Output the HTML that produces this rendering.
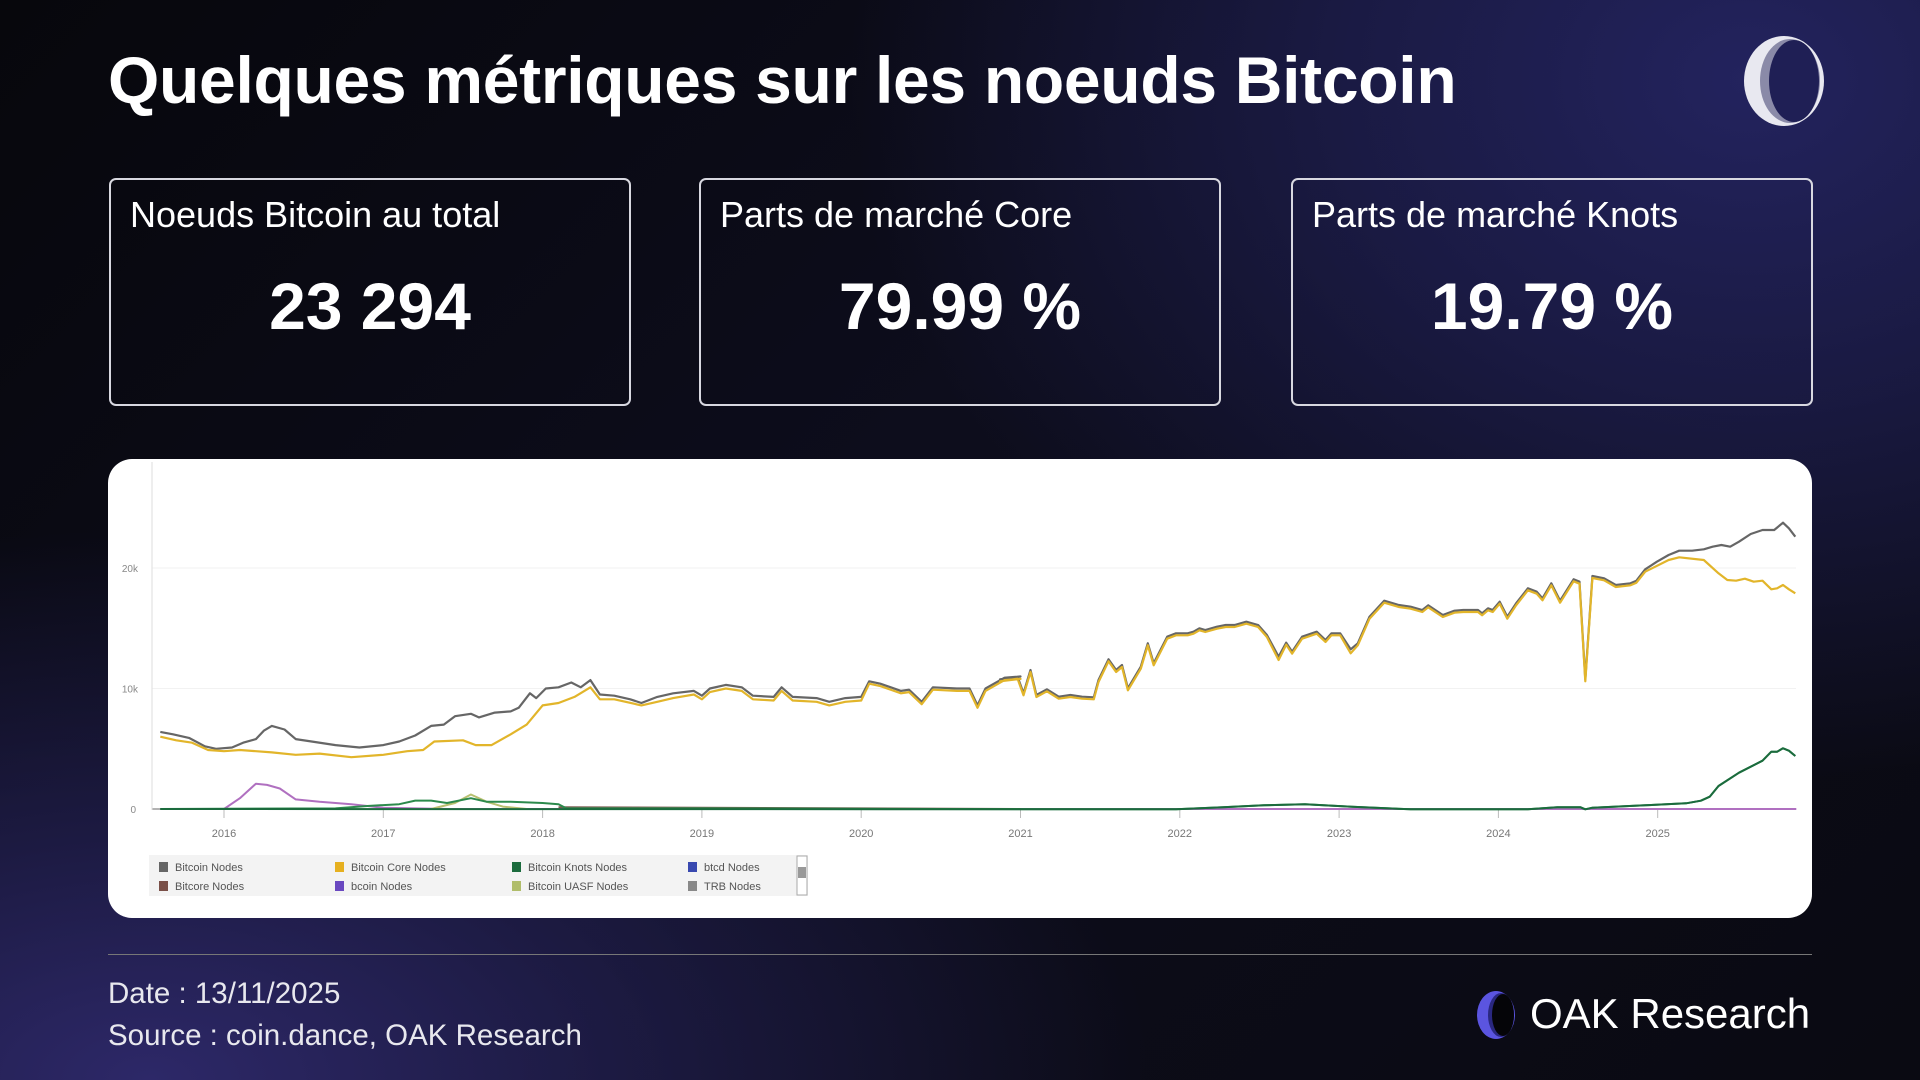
<!DOCTYPE html>
<html><head><meta charset="utf-8">
<style>
html,body{margin:0;padding:0}
body{width:1920px;height:1080px;overflow:hidden;position:relative;font-family:"Liberation Sans",sans-serif;color:#fff;
background:
radial-gradient(ellipse 900px 700px at 1750px 80px,#23235e 0%,rgba(35,35,94,0.6) 45%,rgba(20,20,50,0) 100%),
radial-gradient(ellipse 1000px 550px at 150px 1080px,#2d2868 0%,rgba(42,38,100,0.55) 45%,rgba(0,0,0,0) 100%),
linear-gradient(135deg,#07070c 0%,#0d0d1c 45%,#0a0a12 100%);}
.title{position:absolute;left:108px;top:42px;font-size:66px;font-weight:bold;letter-spacing:-0.3px;white-space:nowrap}
.box{position:absolute;top:178px;width:522px;height:228px;border:2px solid #d8d8e0;border-radius:7px;box-sizing:border-box}
.box .l{position:absolute;left:19px;top:14px;font-size:36px;white-space:nowrap}
.box .v{position:absolute;left:0;right:0;top:88px;text-align:center;font-size:66px;font-weight:bold}
.card{position:absolute;left:108px;top:459px;width:1704px;height:459px;background:#fff;border-radius:24px;overflow:hidden}
.foot{position:absolute;left:108px;font-size:29.5px;color:#e8e8ee;white-space:nowrap}
</style></head><body>
<div class="title">Quelques métriques sur les noeuds Bitcoin</div>
<svg style="position:absolute;left:1740px;top:34px" width="88" height="94" viewBox="0 0 88 94">
<ellipse cx="44" cy="47" rx="40" ry="45" fill="#e8e8f0"/>
<ellipse cx="50" cy="47" rx="30" ry="42" fill="#8a8aa8"/>
<ellipse cx="54" cy="47" rx="25" ry="41" fill="#1f1f55"/>
</svg>
<div class="box" style="left:109px"><div class="l">Noeuds Bitcoin au total</div><div class="v">23 294</div></div>
<div class="box" style="left:699px"><div class="l">Parts de marché Core</div><div class="v">79.99 %</div></div>
<div class="box" style="left:1291px"><div class="l">Parts de marché Knots</div><div class="v">19.79 %</div></div>
<div class="card"></div>
<svg id="ch" style="position:absolute;left:0;top:0" width="1920" height="1080"></svg>
<div style="position:absolute;left:108px;top:954px;width:1704px;height:1px;background:#777"></div>
<div class="foot" style="top:977px">Date : 13/11/2025</div>
<div class="foot" style="top:1019px">Source : coin.dance, OAK Research</div>
<svg style="position:absolute;left:1476px;top:990px" width="44" height="50" viewBox="0 0 44 50">
<ellipse cx="20" cy="25" rx="19" ry="24" fill="#5b55e0"/>
<ellipse cx="25" cy="25" rx="13" ry="22" fill="#2a2880"/>
<ellipse cx="27" cy="25" rx="11" ry="21" fill="#050508"/>
</svg>
<div style="position:absolute;left:1530px;top:990px;font-size:42px;white-space:nowrap;color:#fff">OAK Research</div>
<script>
var s=document.getElementById('ch'),h='';
function X(t){return 224+(t-2016)*159.3}
function Y(v){return 809-v*12.05}
var SX=1.705;
function tv(a){return a.map(p=>X(p[0]).toFixed(1)+','+Y(p[1]).toFixed(1))}
function zm(a){return a.map(p=>(1000+p[0]/SX).toFixed(1)+','+(450+p[1]/3).toFixed(1))}
[0,10,20].forEach(v=>{h+='<line x1="152" x2="1796" y1="'+Y(v)+'" y2="'+Y(v)+'" stroke="'+(v?'#f2f2f2':'#999')+'" stroke-width="'+(v?1:1.5)+'"/>';
h+='<text x="'+(v?138:136)+'" y="'+(Y(v)+4)+'" font-size="10" fill="#888" text-anchor="end" font-family="Liberation Sans">'+(v?v+'k':'0')+'</text>';});
h+='<line x1="152" x2="152" y1="462" y2="810" stroke="#ddd"/>';
for(var y=2016;y<=2025;y++){var x=X(y);h+='<line x1="'+x+'" x2="'+x+'" y1="810" y2="818" stroke="#bbb"/><text x="'+x+'" y="837" font-size="11" fill="#777" text-anchor="middle" font-family="Liberation Sans">'+y+'</text>';}
var gE=[[2015.6,6.4],[2015.68,6.2],[2015.78,5.9],[2015.88,5.2],[2015.95,5.0],[2016.05,5.1],[2016.12,5.5],[2016.2,5.8],[2016.25,6.5],[2016.3,6.9],[2016.38,6.6],[2016.45,5.8],[2016.55,5.6],[2016.7,5.3],[2016.85,5.1],[2017.0,5.3],[2017.1,5.6],[2017.2,6.1],[2017.3,6.9],[2017.38,7.0],[2017.45,7.7],[2017.55,7.9],[2017.6,7.6],[2017.7,8.0],[2017.8,8.1],[2017.85,8.4],[2017.92,9.6],[2017.96,9.2],[2018.02,10.0],[2018.1,10.1],[2018.18,10.5],[2018.24,10.1],[2018.3,10.7],[2018.36,9.5],[2018.45,9.4],[2018.55,9.1],[2018.62,8.8],[2018.72,9.3],[2018.82,9.6],[2018.95,9.8],[2019.0,9.4],[2019.05,10.0],[2019.15,10.3],[2019.25,10.1],[2019.32,9.4],[2019.45,9.3],[2019.5,10.1],[2019.57,9.3],[2019.72,9.2],[2019.8,8.9],[2019.9,9.2],[2020.0,9.3],[2020.05,10.6],[2020.12,10.4],[2020.25,9.8],[2020.3,9.9],[2020.38,8.9],[2020.45,10.1],[2020.6,10.0],[2020.68,10.0],[2020.73,8.6],[2020.78,10.0],[2020.9,10.9],[2021.0,11.0]];
var gL=[[0,688],[30,680],[40,730],[52,660],[62,735],[80,718],[100,740],[120,735],[140,740],[160,742],[168,690],[185,628],[198,660],[208,645],[218,715],[240,650],[252,580],[262,640],[285,560],[300,550],[320,550],[330,545],[340,535],[350,540],[370,530],[385,525],[400,525],[420,515],[440,525],[455,555],[475,620],[488,578],[498,605],[515,560],[540,545],[555,570],[565,550],[580,550],[598,598],[610,580],[630,500],[655,452],[680,465],[700,470],[720,480],[730,466],[755,495],[775,482],[790,480],[815,480],[822,490],[832,475],[840,480],[852,455],[865,500],[880,460],[900,415],[915,425],[925,445],[940,400],[955,452],[978,388],[988,395],[998,688],[1010,378],[1030,385],[1050,405],[1075,400],[1085,392],[1100,358],[1120,335],[1140,315],[1158,302],[1180,302],[1200,298],[1215,290],[1230,285],[1245,290],[1260,275],[1280,252],[1300,240],[1320,240],[1335,218],[1345,235],[1356,260]];
var yE=[[2015.6,6.0],[2015.7,5.7],[2015.8,5.5],[2015.9,4.9],[2016.0,4.8],[2016.1,4.9],[2016.2,4.8],[2016.3,4.7],[2016.45,4.5],[2016.6,4.6],[2016.8,4.3],[2017.0,4.5],[2017.15,4.8],[2017.25,4.9],[2017.32,5.6],[2017.5,5.7],[2017.58,5.3],[2017.68,5.3],[2017.8,6.2],[2017.9,7.0],[2018.0,8.6],[2018.1,8.8],[2018.2,9.3],[2018.3,10.1],[2018.36,9.1],[2018.45,9.1],[2018.62,8.6],[2018.72,8.9],[2018.82,9.2],[2018.95,9.5],[2019.0,9.1],[2019.05,9.7],[2019.15,10.0],[2019.25,9.8],[2019.32,9.1],[2019.45,9.0],[2019.5,9.8],[2019.57,9.0],[2019.72,8.9],[2019.8,8.6],[2019.9,8.9],[2020.0,9.0],[2020.05,10.4],[2020.12,10.2],[2020.25,9.6],[2020.3,9.7],[2020.38,8.7],[2020.45,9.9],[2020.6,9.8],[2020.68,9.8],[2020.73,8.4],[2020.78,9.8],[2020.9,10.7],[2021.0,10.8]];
var yL=gL.map(p=>[p[0],p[1]+6]).filter(p=>p[0]<1100);
yL=yL.map(p=>p[0]==475?[475,630]:p[0]==598?[598,610]:p);
yL=yL.concat([[1100,365],[1140,330],[1158,322],[1200,330],[1225,370],[1240,390],[1255,392],[1270,386],[1285,395],[1300,392],[1315,418],[1325,415],[1335,405],[1345,418],[1356,430]]);
var kL=[[-200,1078],[300,1078],[380,1072],[450,1066],[520,1063],[600,1070],[700,1078],[900,1078],[950,1072],[990,1072],[998,1078],[1010,1073],[1100,1066],[1170,1060],[1195,1052],[1210,1040],[1225,1008],[1260,968],[1300,932],[1315,905],[1325,905],[1335,895],[1345,902],[1356,918]];
var kE=[[2015.6,0],[2016.7,0.05],[2016.9,0.25],[2017.1,0.4],[2017.2,0.7],[2017.3,0.7],[2017.4,0.5],[2017.55,0.9],[2017.65,0.6],[2017.8,0.6],[2018.0,0.5],[2018.1,0.4],[2018.15,0.05],[2019,0.05],[2020.5,0]];
var pE=[[2015.6,0],[2016.0,0],[2016.1,0.9],[2016.2,2.1],[2016.27,2.0],[2016.35,1.7],[2016.45,0.8],[2016.6,0.6],[2016.8,0.4],[2017.0,0.1],[2017.4,0],[2025.87,0]];
var uE=[[2017.3,0],[2017.45,0.5],[2017.55,1.2],[2017.65,0.6],[2017.75,0.2],[2017.9,0]];
var bE=[[2018.1,0.15],[2019,0.1],[2020,0.05],[2021,0]];
function pl(pts,c,w){h+='<polyline points="'+pts.join(' ')+'" fill="none" stroke="'+c+'" stroke-width="'+w+'" stroke-linejoin="round"/>';}
pl(tv(pE),'#b070c0',2);
pl(tv(bE),'#7a5a50',2);
pl(tv(uE),'#b8c070',2);
pl(tv(kE).concat(zm(kL).slice(1)),'#2c8a4c',2);
pl(tv(kE).slice(0,1).concat(zm(kL).slice(1)),'#1b6b3d',2);
pl(tv(gE).concat(zm(gL)),'#666',2.2);
pl(tv(yE).concat(zm(yL)),'#e2b52a',2.2);
h+='<rect x="149" y="855" width="659" height="41" fill="#f3f3f3"/>';
var lg=[['Bitcoin Nodes','#666'],['Bitcoin Core Nodes','#e6b020'],['Bitcoin Knots Nodes','#1b6b3d'],['btcd Nodes','#3949b0'],['Bitcore Nodes','#7a5048'],['bcoin Nodes','#6a48c0'],['Bitcoin UASF Nodes','#b0bd6a'],['TRB Nodes','#888']];
lg.forEach((l,i)=>{var cx=[159,335,512,688][i%4],cy=i<4?862:881;h+='<rect x="'+cx+'" y="'+cy+'" width="9" height="10" fill="'+l[1]+'"/><text x="'+(cx+16)+'" y="'+(cy+9)+'" font-size="11" fill="#555" font-family="Liberation Sans">'+l[0]+'</text>';});
h+='<rect x="797" y="856" width="10" height="39" fill="#fff" stroke="#aaa"/><rect x="798" y="867" width="8" height="11" fill="#999"/>';
s.innerHTML=h;
</script>
</body></html>
